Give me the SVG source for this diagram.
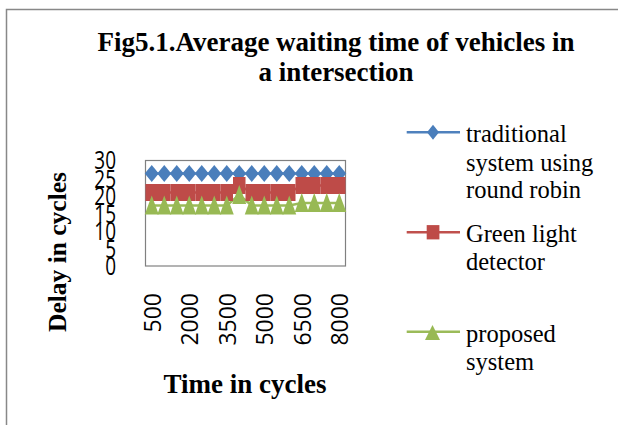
<svg xmlns="http://www.w3.org/2000/svg" width="618" height="425" viewBox="0 0 618 425">
<style>
.ttl{font-family:"Liberation Serif","Times New Roman",serif;font-weight:bold;fill:#000}
.leg{font-family:"Liberation Serif","Times New Roman",serif;font-size:24.5px;fill:#000}
.num{font-family:"Open Sans","Noto Sans",sans-serif;fill:#000}
.s1{fill:none;stroke:#4f81bd;stroke-width:2.5}
.s2{fill:none;stroke:#c0504d;stroke-width:2.5}
.s3{fill:none;stroke:#9bbb59;stroke-width:2.5}
.m1{fill:#4a7ebb}
.m2{fill:#be4b48}
.m3{fill:#98b954}
</style>
<defs>
<path id="dia" d="M0,-8.5 L7,0 L0,8.5 L-7,0Z"/>
<rect id="sq" x="-6.25" y="-8.5" width="12.5" height="17"/>
<path id="tri" d="M0,-10 L7,9 L-7,9Z"/>
</defs>
<rect id="chart-border" x="6.5" y="9.5" width="620" height="430" fill="#fff" stroke="#888" stroke-width="1.5"/>
<g id="title">
<text class="ttl" font-size="27" text-anchor="middle" x="336" y="51">Fig5.1.Average waiting time of vehicles in</text>
<text class="ttl" font-size="27" text-anchor="middle" x="336" y="81">a intersection</text>
</g>
<g id="plot-area">
<rect x="145.5" y="160.5" width="200" height="105.5" fill="#fff" stroke="#808080" stroke-width="1.2"/>
</g>
<g id="y-axis">
<g class="num" font-size="19" text-anchor="end">
<text transform="translate(116 169) scale(1 1.32)">30</text>
<text transform="translate(116 187.5) scale(1 1.32)">25</text>
<text transform="translate(116 205) scale(1 1.32)">20</text>
<text transform="translate(116 222.5) scale(1 1.32)">15</text>
<text transform="translate(116 240) scale(1 1.32)">10</text>
<text transform="translate(116 257.5) scale(1 1.32)">5</text>
<text transform="translate(116 275) scale(1 1.32)">0</text>
</g>
<text class="ttl" font-size="24.5" text-anchor="middle" transform="translate(66 252) rotate(-90) scale(1.04 1)">Delay in cycles</text>
</g>
<g id="x-axis">
<g class="num" font-size="23" text-anchor="end">
<text transform="translate(160.5 293) rotate(-90)">500</text>
<text transform="translate(198 293) rotate(-90)">2000</text>
<text transform="translate(235.5 293) rotate(-90)">3500</text>
<text transform="translate(273 293) rotate(-90)">5000</text>
<text transform="translate(310.5 293) rotate(-90)">6500</text>
<text transform="translate(348 293) rotate(-90)">8000</text>
</g>
<text class="ttl" font-size="27" text-anchor="middle" x="245" y="392.5">Time in cycles</text>
</g>
<g id="connectors">
<polyline class="s1" points="151.75,173.5 339.25,173.5"/>
<polyline class="s2" points="151.75,192.5 226.75,192.5 239.25,185.5 251.75,192.5 289.25,192.5 301.75,185.5 339.25,185.5"/>
<polyline class="s3" points="151.75,205.5 226.75,205.5 239.25,195 251.75,205.5 289.25,205.5 301.75,203 339.25,203"/>
</g>
<g id="series-traditional" class="m1">
<use href="#dia" x="151.75" y="173.5"/><use href="#dia" x="164.25" y="173.5"/><use href="#dia" x="176.75" y="173.5"/><use href="#dia" x="189.25" y="173.5"/>
<use href="#dia" x="201.75" y="173.5"/><use href="#dia" x="214.25" y="173.5"/><use href="#dia" x="226.75" y="173.5"/><use href="#dia" x="239.25" y="173.5"/>
<use href="#dia" x="251.75" y="173.5"/><use href="#dia" x="264.25" y="173.5"/><use href="#dia" x="276.75" y="173.5"/><use href="#dia" x="289.25" y="173.5"/>
<use href="#dia" x="301.75" y="173.5"/><use href="#dia" x="314.25" y="173.5"/><use href="#dia" x="326.75" y="173.5"/><use href="#dia" x="339.25" y="173.5"/>
</g>
<g id="series-green-light" class="m2">
<use href="#sq" x="151.75" y="192.5"/><use href="#sq" x="164.25" y="192.5"/><use href="#sq" x="176.75" y="192.5"/><use href="#sq" x="189.25" y="192.5"/>
<use href="#sq" x="201.75" y="192.5"/><use href="#sq" x="214.25" y="192.5"/><use href="#sq" x="226.75" y="192.5"/><use href="#sq" x="239.25" y="185.5"/>
<use href="#sq" x="251.75" y="192.5"/><use href="#sq" x="264.25" y="192.5"/><use href="#sq" x="276.75" y="192.5"/><use href="#sq" x="289.25" y="192.5"/>
<use href="#sq" x="301.75" y="185.5"/><use href="#sq" x="314.25" y="185.5"/><use href="#sq" x="326.75" y="185.5"/><use href="#sq" x="339.25" y="185.5"/>
</g>
<g id="series-proposed" class="m3">
<use href="#tri" x="151.75" y="205.5"/><use href="#tri" x="164.25" y="205.5"/><use href="#tri" x="176.75" y="205.5"/><use href="#tri" x="189.25" y="205.5"/>
<use href="#tri" x="201.75" y="205.5"/><use href="#tri" x="214.25" y="205.5"/><use href="#tri" x="226.75" y="205.5"/><use href="#tri" x="239.25" y="195"/>
<use href="#tri" x="251.75" y="205.5"/><use href="#tri" x="264.25" y="205.5"/><use href="#tri" x="276.75" y="205.5"/><use href="#tri" x="289.25" y="205.5"/>
<use href="#tri" x="301.75" y="203"/><use href="#tri" x="314.25" y="203"/><use href="#tri" x="326.75" y="203"/><use href="#tri" x="339.25" y="203"/>
</g>
<g id="legend">
<g id="legend-traditional">
<line class="s1" x1="406.7" y1="132.3" x2="460" y2="132.3"/>
<path class="m1" d="M433,124.8 L439,132.3 L433,139.8 L427,132.3Z"/>
<text class="leg" x="466" y="142.3">traditional</text>
<text class="leg" x="466" y="171">system using</text>
<text class="leg" x="466" y="198.3">round robin</text>
</g>
<g id="legend-green-light">
<line class="s2" x1="406.7" y1="232.3" x2="460" y2="232.3"/>
<rect class="m2" x="426.7" y="225.1" width="12.7" height="14.3"/>
<text class="leg" x="466" y="242.3">Green light</text>
<text class="leg" x="466" y="270">detector</text>
</g>
<g id="legend-proposed">
<line class="s3" x1="406.7" y1="331.7" x2="460" y2="331.7"/>
<path class="m3" d="M432.5,325 L440,340 L425,340Z"/>
<text class="leg" x="466" y="341.7">proposed</text>
<text class="leg" x="466" y="370">system</text>
</g>
</g>
</svg>
